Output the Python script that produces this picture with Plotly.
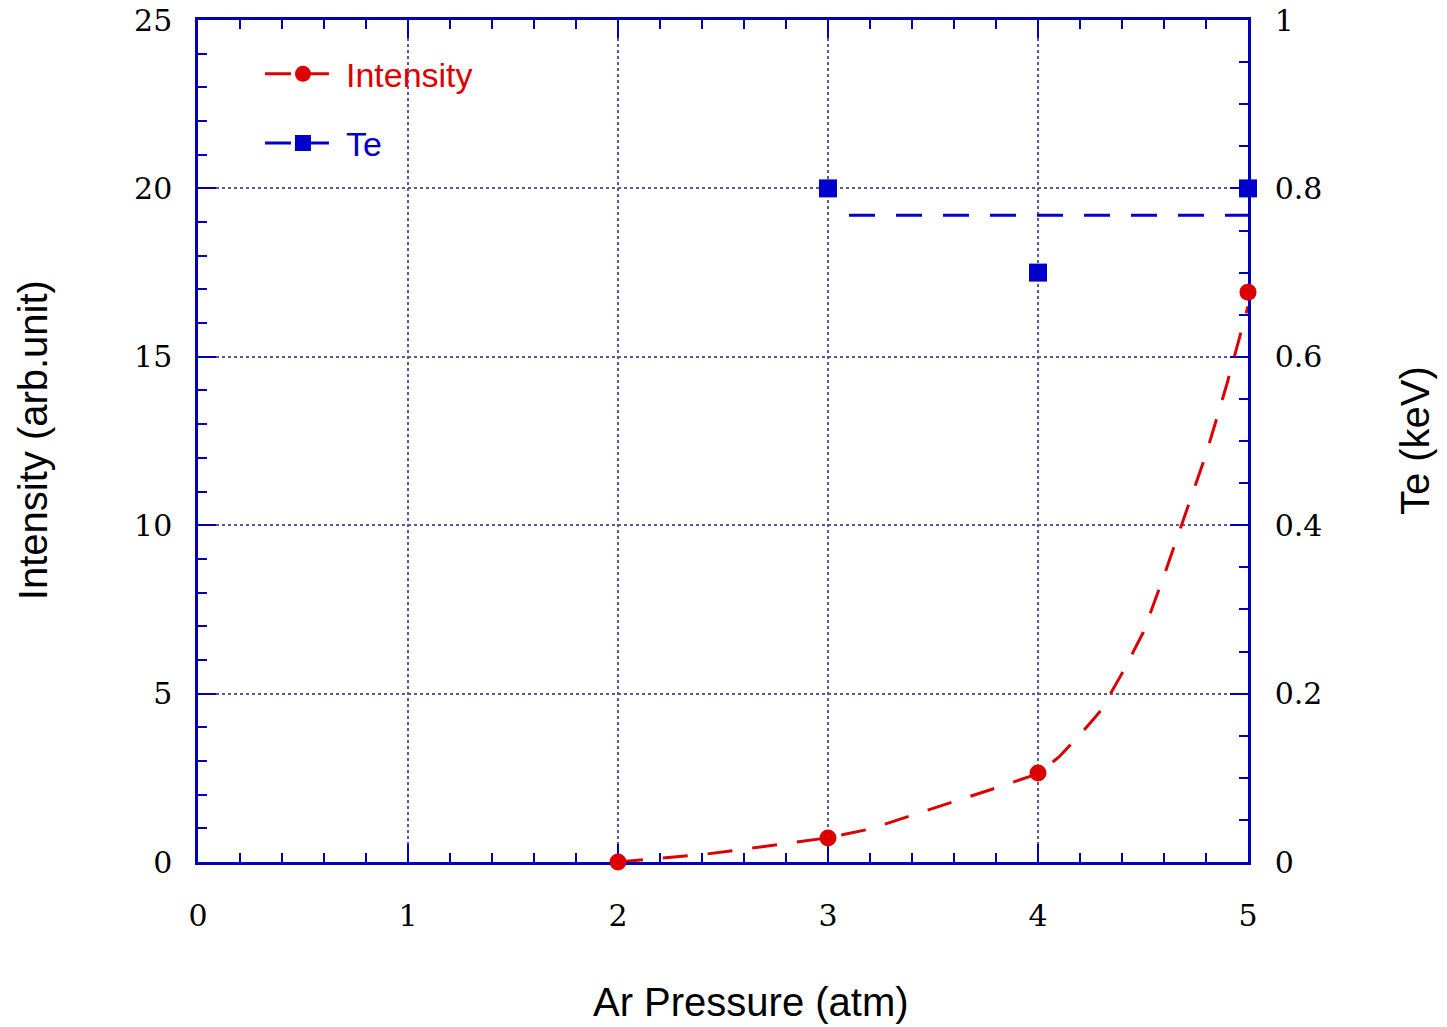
import plotly.graph_objects as go

# ---- data ----
pressure = [2, 3, 4, 5]
intensity = [0.0, 0.71, 2.64, 16.92]
te_pressure = [3, 4, 5]
te_values = [0.80, 0.70, 0.80]

# fitted curves
int_fit_x = [2.0, 2.2, 2.4, 2.6, 2.8, 3.0, 3.2, 3.4, 3.6, 3.8, 4.0, 4.1, 4.2,
             4.3, 4.4, 4.5, 4.6, 4.7, 4.8, 4.9, 5.0]
int_fit_y = [0.0, 0.12, 0.22, 0.38, 0.54, 0.72, 0.98, 1.38, 1.80, 2.20, 2.62,
             3.12, 3.78, 4.5, 5.6, 6.8, 8.5, 10.3, 12.1, 14.2, 16.5]
te_fit_x = [3.1, 5.0]
te_fit_y = [0.768, 0.768]

x_ticks = [0, 1, 2, 3, 4, 5]
y_ticks = [0, 5, 10, 15, 20, 25]
y2_ticks = [0, 0.2, 0.4, 0.6, 0.8, 1]
y2_ticklabels = ["0", "0.2", "0.4", "0.6", "0.8", "1"]

x_title = "Ar Pressure (atm)"
y_title = "Intensity (arb.unit)"
y2_title = "Te (keV)"

RED = "#dd0000"
BLUE = "#0000cc"
AXIS = "#0000bb"
GRID = "#5a5a98"

fig = go.Figure()

fig.add_trace(go.Scatter(x=int_fit_x, y=int_fit_y, mode="lines",
                         line=dict(color=RED, width=3, dash="25px,20px"),
                         showlegend=False, yaxis="y"))
fig.add_trace(go.Scatter(x=pressure, y=intensity, mode="markers",
                         marker=dict(color=RED, size=17, symbol="circle"),
                         showlegend=False, cliponaxis=False, yaxis="y"))
fig.add_trace(go.Scatter(x=te_fit_x, y=te_fit_y, mode="lines",
                         line=dict(color=BLUE, width=3, dash="26px,21px"),
                         showlegend=False, yaxis="y2"))
fig.add_trace(go.Scatter(x=te_pressure, y=te_values, mode="markers",
                         marker=dict(color=BLUE, size=18, symbol="square"),
                         showlegend=False, cliponaxis=False, yaxis="y2"))

# legend entries
fig.add_trace(go.Scatter(x=[None], y=[None], mode="lines+markers",
                         name="<span style='color:%s'>Intensity</span>" % RED,
                         legendgroup="a",
                         line=dict(color=RED, width=3, dash="26px,12px"),
                         marker=dict(color=RED, size=17, symbol="circle")))
fig.add_trace(go.Scatter(x=[None], y=[None], mode="lines+markers",
                         name="<span style='color:%s'>Te</span>" % BLUE,
                         legendgroup="b",
                         line=dict(color=BLUE, width=3, dash="26px,12px"),
                         marker=dict(color=BLUE, size=17, symbol="square")))

tickfont = dict(family="DejaVu Serif, Liberation Serif, serif", size=30, color="black")
titlefont = dict(family="Liberation Sans, Arial, sans-serif", size=40, color="black")

fig.update_layout(
    width=1447, height=1027,
    margin=dict(l=198, r=199, t=20, b=165),
    paper_bgcolor="white", plot_bgcolor="white",
    showlegend=True,
    legend=dict(x=0.059, y=0.97, xanchor="left", yanchor="top",
                bgcolor="rgba(0,0,0,0)", font=dict(family="Liberation Sans, Arial, sans-serif", size=34),
                tracegroupgap=22, itemwidth=76),
    xaxis=dict(range=[0, 5], tickvals=x_ticks, ticks="inside", ticklen=18, tickwidth=2,
               tickcolor=AXIS, showline=True, linecolor=AXIS, linewidth=2.5, mirror="ticks",
               showgrid=True, gridcolor=GRID, gridwidth=1.5, griddash="dot",
               zeroline=False, tickfont=tickfont, ticklabelstandoff=25,
               minor=dict(dtick=0.2, ticks="inside", ticklen=9, tickwidth=2, tickcolor=AXIS,
                          showgrid=False),
               layer="below traces", automargin=False),
    yaxis=dict(range=[0, 25], tickvals=y_ticks, ticks="inside", ticklen=18, tickwidth=2,
               tickcolor=AXIS, showline=True, linecolor=AXIS, linewidth=2.5, mirror=False,
               showgrid=True, gridcolor=GRID, gridwidth=1.5, griddash="dot",
               zeroline=False, tickfont=tickfont, ticklabelstandoff=17,
               minor=dict(dtick=1, ticks="inside", ticklen=9, tickwidth=2, tickcolor=AXIS,
                          showgrid=False),
               layer="below traces", automargin=False),
    yaxis2=dict(range=[0, 1], tickvals=y2_ticks, ticktext=y2_ticklabels, overlaying="y",
                side="right", ticks="inside", ticklen=18, tickwidth=2,
                tickcolor=AXIS, showline=True, linecolor=AXIS, linewidth=2.5,
                showgrid=False, zeroline=False, tickfont=tickfont, ticklabelstandoff=18,
                minor=dict(dtick=0.05, ticks="inside", ticklen=9, tickwidth=2, tickcolor=AXIS,
                           showgrid=False),
                layer="below traces", automargin=False),
    annotations=[
        dict(text=x_title, xref="paper", yref="paper", x=0.5267, y=-0.1663,
             showarrow=False, font=titlefont, xanchor="center", yanchor="middle"),
        dict(text=y_title, xref="paper", yref="paper", x=-0.1571, y=0.501,
             showarrow=False, font=titlefont, textangle=-90, xanchor="center", yanchor="middle"),
        dict(text=y2_title, xref="paper", yref="paper", x=1.159, y=0.501,
             showarrow=False, font=titlefont, textangle=-90, xanchor="center", yanchor="middle"),
    ],
)

fig.write_html("out.html")
